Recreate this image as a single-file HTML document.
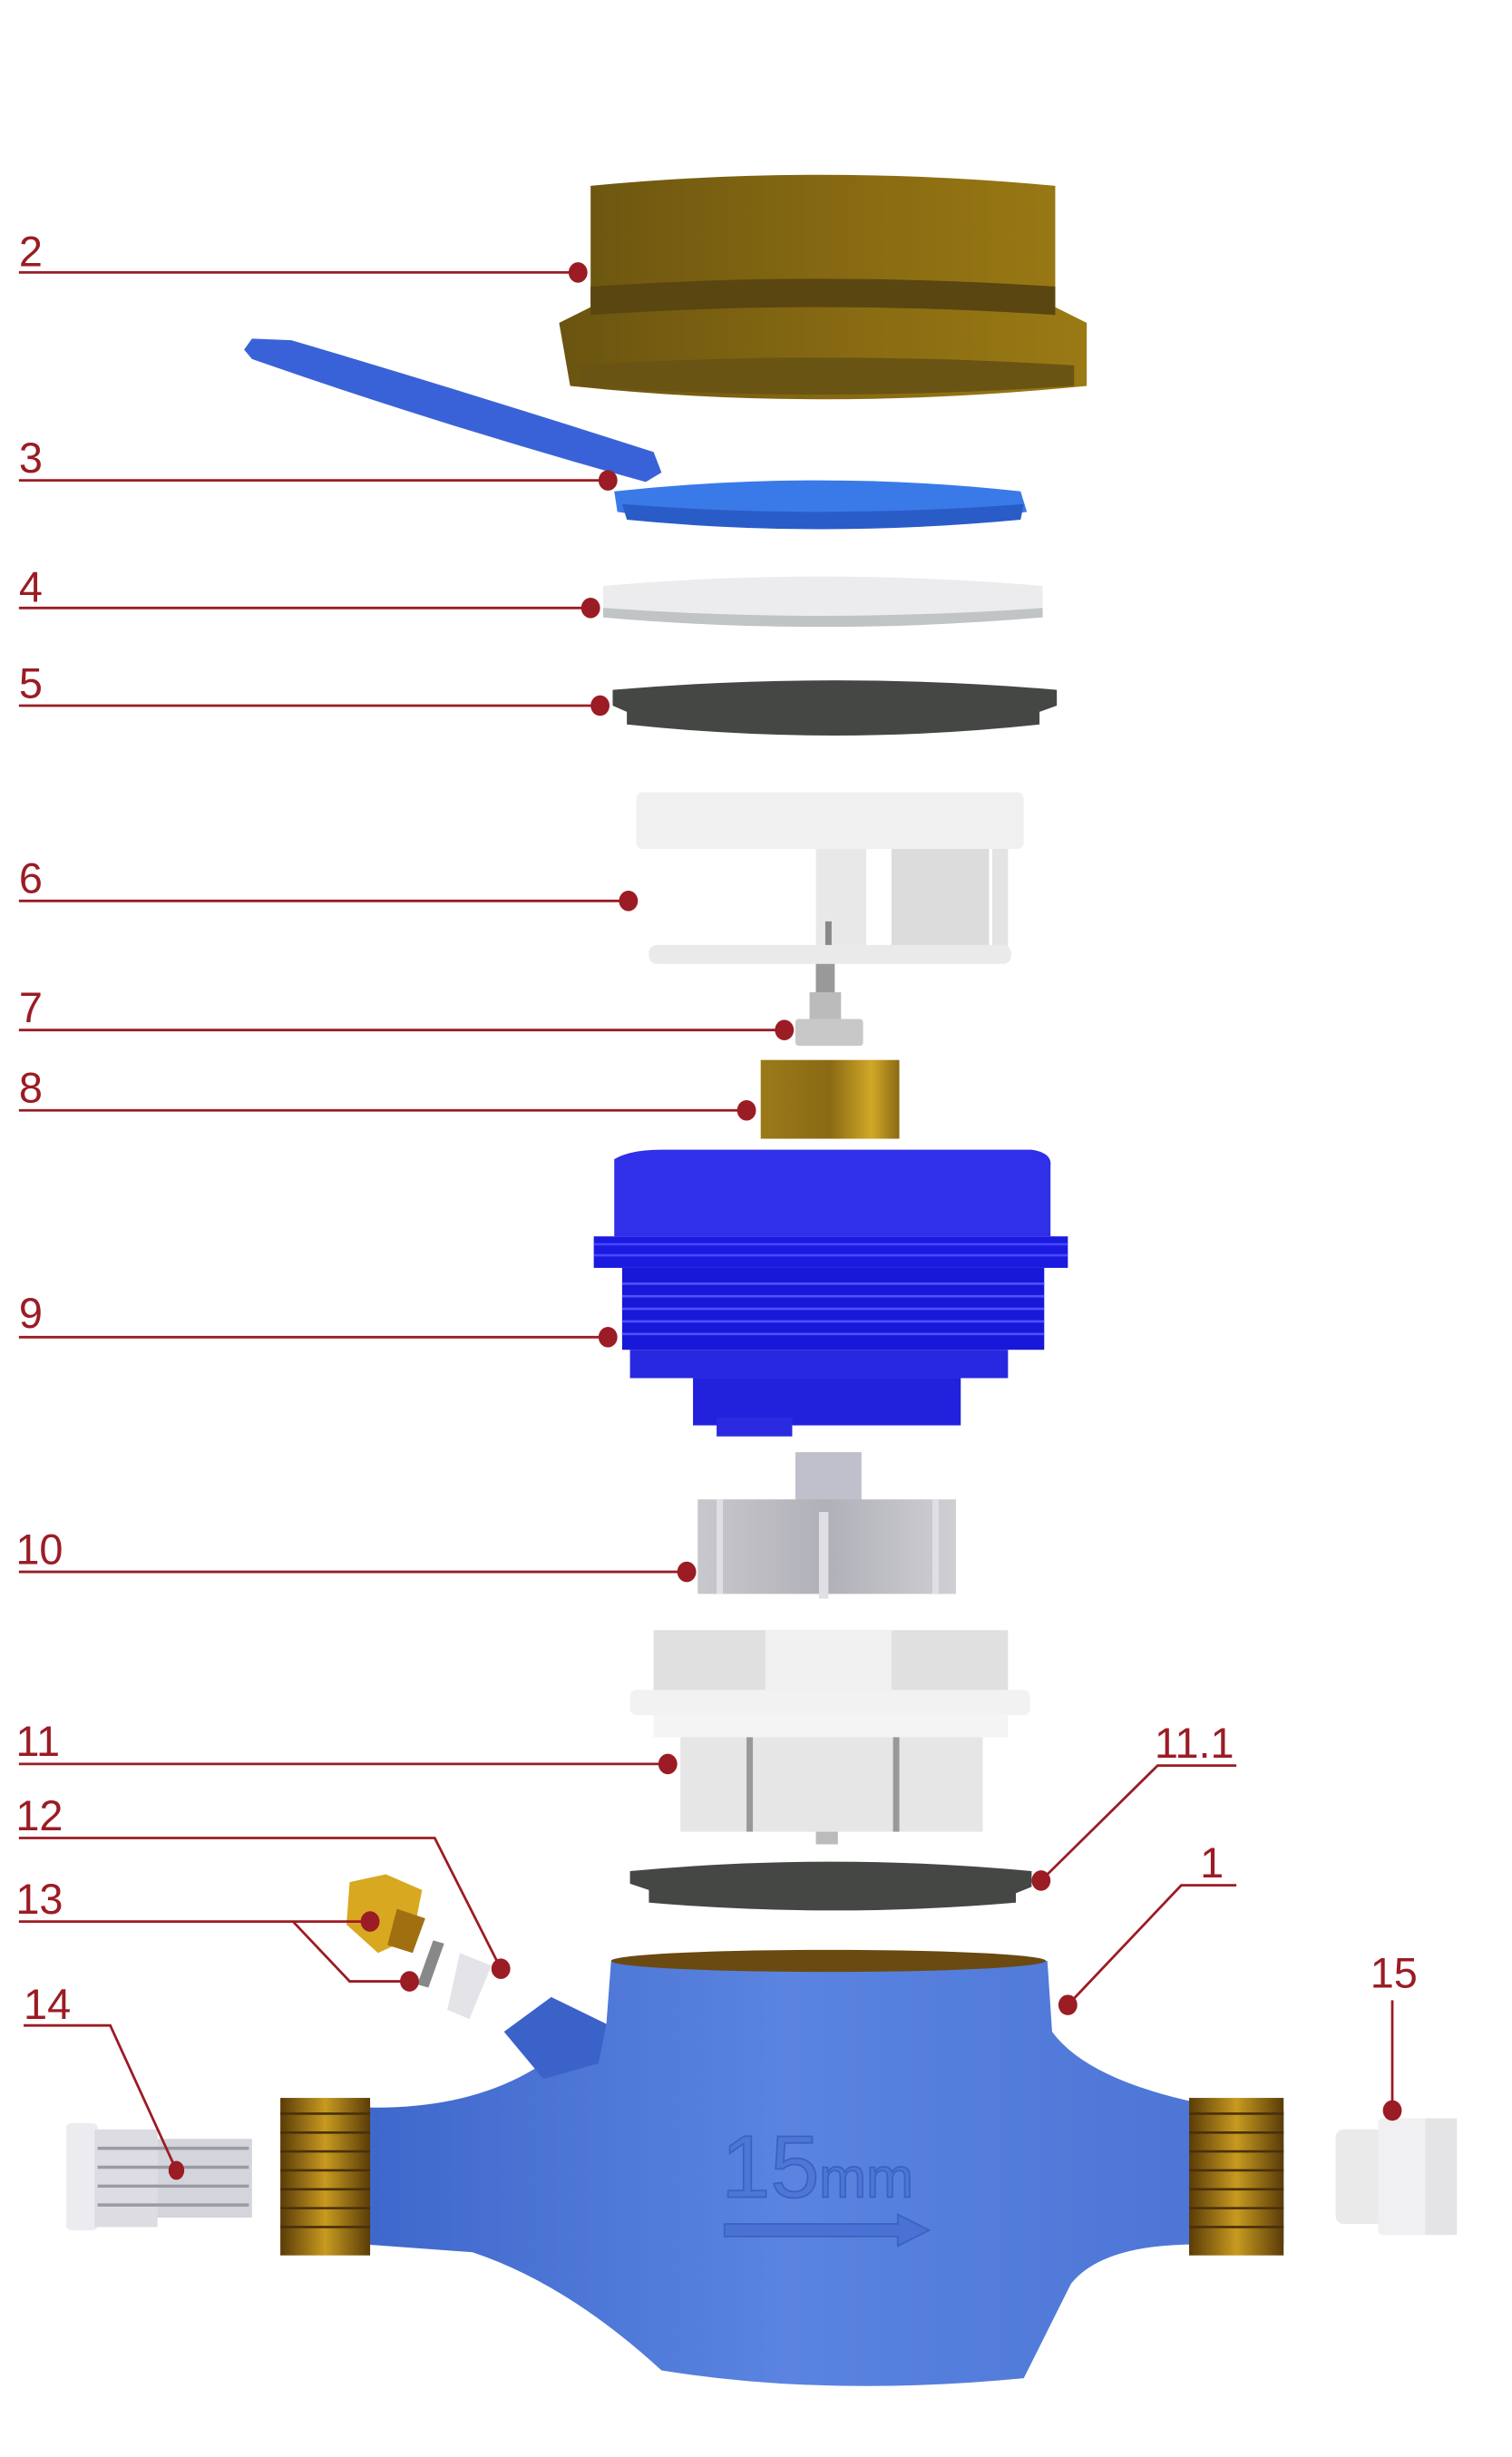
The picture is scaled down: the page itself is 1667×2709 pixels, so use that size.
<!DOCTYPE html>
<html><head><meta charset="utf-8"><style>
html,body{margin:0;padding:0;background:#fff;}
svg{display:block;}
text{font-family:"Liberation Sans",sans-serif;fill:#9b1c24;font-size:27px;}
</style></head><body>
<svg width="1667" height="2709" viewBox="0 0 960 1560" preserveAspectRatio="none" xmlns="http://www.w3.org/2000/svg">
<defs>
<linearGradient id="brass" x1="0" x2="1"><stop offset="0" stop-color="#6a5410"/><stop offset="0.6" stop-color="#8a6c12"/><stop offset="1" stop-color="#9a7a14"/></linearGradient>
<linearGradient id="brass2" x1="0" x2="1"><stop offset="0" stop-color="#9a7a18"/><stop offset="0.5" stop-color="#8a6a14"/><stop offset="0.8" stop-color="#d0a828"/><stop offset="1" stop-color="#8a6a14"/></linearGradient>
<linearGradient id="thr" x1="0" x2="1"><stop offset="0" stop-color="#5a3c08"/><stop offset="0.5" stop-color="#c89a20"/><stop offset="1" stop-color="#5a3c08"/></linearGradient>
<linearGradient id="body" x1="0" x2="1"><stop offset="0" stop-color="#3a62c8"/><stop offset="0.5" stop-color="#5a84e0"/><stop offset="1" stop-color="#4a72d4"/></linearGradient>
<linearGradient id="gray" x1="0" x2="1"><stop offset="0" stop-color="#c8c8cc"/><stop offset="0.5" stop-color="#b0b0b8"/><stop offset="1" stop-color="#cfcfd4"/></linearGradient>
</defs>
<rect width="960" height="1560" fill="#fff"/>

<!-- 2 brass ring -->
<path d="M375 118 Q520 104 670 118 L670 195 L690 205 L690 245 Q520 262 362 245 L355 205 L375 195 Z" fill="url(#brass)"/>
<path d="M375 182 Q520 172 670 182 L670 200 Q520 190 375 200 Z" fill="#5a4610"/>
<path d="M368 232 Q520 222 682 232 L682 245 Q520 256 368 245 Z" fill="#6a5414"/>

<!-- 3 lid flap & ring -->
<path d="M155 222 L160 215 L185 216 Q300 250 415 287 L420 300 L410 306 Q280 270 160 228 Z" fill="#3a62d8"/>
<path d="M390 312 Q520 298 648 312 L652 325 Q520 345 392 325 Z" fill="#3a7ae8"/>
<path d="M395 320 Q520 330 650 320 L648 330 Q520 342 398 330 Z" fill="#2a5cc8"/>

<!-- 4 white disc -->
<path d="M383 372 Q520 360 662 372 L662 392 Q520 404 383 392 Z" fill="#ececee"/>
<path d="M383 386 Q520 396 662 386 L662 392 Q520 404 383 392 Z" fill="#c0c4c4"/>

<!-- 5 gasket -->
<path d="M389 438 Q530 426 671 438 L671 448 L660 452 L660 460 Q530 474 398 460 L398 452 L389 448 Z" fill="#454745"/>

<!-- 6 register -->
<rect x="404" y="503" width="246" height="36" rx="4" fill="#f0f0f0"/>
<rect x="518" y="539" width="32" height="62" fill="#e8e8e8"/>
<rect x="566" y="539" width="62" height="62" fill="#dcdcdc"/>
<rect x="630" y="539" width="10" height="62" fill="#e4e4e4"/>
<rect x="524" y="585" width="4" height="18" fill="#888"/>
<rect x="412" y="600" width="230" height="12" rx="5" fill="#eaeaea"/>

<!-- 7 shaft -->
<rect x="518" y="612" width="12" height="20" fill="#999"/>
<rect x="514" y="630" width="20" height="18" fill="#bbb"/>
<rect x="505" y="647" width="43" height="17" rx="2" fill="#c8c8c8"/>

<!-- 8 magnet -->
<rect x="483" y="673" width="88" height="50" fill="url(#brass2)"/>

<!-- 9 blue cup -->
<path d="M390 736 Q400 730 420 730 L655 730 Q668 732 667 740 L667 785 L390 785 Z" fill="#3030e8"/>
<rect x="377" y="785" width="301" height="20" fill="#1a1ae0"/>
<g stroke="#4848ff" stroke-width="1.5"><line x1="377" y1="790" x2="678" y2="790"/><line x1="377" y1="797" x2="678" y2="797"/></g>
<rect x="395" y="805" width="268" height="52" fill="#1818d8"/>
<g stroke="#5050ff" stroke-width="1.5"><line x1="395" y1="815" x2="663" y2="815"/><line x1="395" y1="823" x2="663" y2="823"/><line x1="395" y1="831" x2="663" y2="831"/><line x1="395" y1="839" x2="663" y2="839"/><line x1="395" y1="847" x2="663" y2="847"/></g>
<rect x="400" y="857" width="240" height="18" fill="#2828e0"/>
<rect x="440" y="875" width="170" height="30" fill="#2222dc"/>
<rect x="455" y="900" width="48" height="12" fill="#2a2ae0"/>

<!-- 10 impeller -->
<rect x="505" y="922" width="42" height="38" fill="#c0c0cc"/>
<rect x="443" y="952" width="164" height="60" fill="url(#gray)"/>
<rect x="455" y="952" width="4" height="60" fill="#e0e0e4"/>
<rect x="520" y="960" width="6" height="55" fill="#e0e0e4"/>
<rect x="592" y="952" width="4" height="60" fill="#e0e0e4"/>

<!-- 11 cage -->
<rect x="415" y="1035" width="225" height="40" fill="#e0e0e0"/>
<rect x="486" y="1035" width="80" height="40" fill="#f0f0f0"/>
<rect x="400" y="1073" width="254" height="16" rx="4" fill="#f2f2f2"/>
<rect x="415" y="1089" width="225" height="14" fill="#f4f4f4"/>
<rect x="432" y="1103" width="192" height="60" fill="#e6e6e6"/>
<rect x="474" y="1103" width="4" height="60" fill="#999"/>
<rect x="567" y="1103" width="4" height="60" fill="#999"/>
<rect x="518" y="1163" width="14" height="8" fill="#bbb"/>

<!-- 11.1 gasket -->
<path d="M400 1188 Q528 1176 655 1188 L655 1198 L645 1202 L645 1208 Q528 1218 412 1208 L412 1200 L400 1196 Z" fill="#454745"/>

<!-- 1 body -->
<path d="M180 1345 L230 1338 Q300 1340 345 1310 L385 1285 L388 1245 Q525 1232 665 1245 L668 1290 Q690 1320 760 1335 L815 1340 L815 1425 L760 1425 Q700 1425 680 1450 L650 1510 Q525 1522 420 1505 Q360 1450 300 1430 L232 1425 L180 1430 Z" fill="url(#body)"/>
<ellipse cx="526" cy="1245" rx="138" ry="7" fill="#6a4a10"/>
<path d="M320 1290 L350 1268 L385 1285 L380 1310 L345 1320 Z" fill="#3a62c8"/>
<text x="458" y="1395" style="font-size:56px;fill:#4e76d6;stroke:#3a62c0;stroke-width:1">15</text>
<text x="520" y="1395" style="font-size:36px;fill:#4e76d6;stroke:#3a62c0;stroke-width:1">mm</text>
<path d="M460 1412 L570 1412 L570 1406 L590 1416 L570 1426 L570 1420 L460 1420 Z" fill="#4a72d4" stroke="#3a62c0"/>
<rect x="178" y="1332" width="57" height="100" fill="url(#thr)"/>
<g stroke="#4a3008" stroke-width="1.5">
<line x1="178" y1="1342" x2="235" y2="1342"/><line x1="178" y1="1354" x2="235" y2="1354"/><line x1="178" y1="1366" x2="235" y2="1366"/><line x1="178" y1="1378" x2="235" y2="1378"/><line x1="178" y1="1390" x2="235" y2="1390"/><line x1="178" y1="1402" x2="235" y2="1402"/><line x1="178" y1="1414" x2="235" y2="1414"/>
</g>
<rect x="755" y="1332" width="60" height="100" fill="url(#thr)"/>
<g stroke="#4a3008" stroke-width="1.5">
<line x1="755" y1="1342" x2="815" y2="1342"/><line x1="755" y1="1354" x2="815" y2="1354"/><line x1="755" y1="1366" x2="815" y2="1366"/><line x1="755" y1="1378" x2="815" y2="1378"/><line x1="755" y1="1390" x2="815" y2="1390"/><line x1="755" y1="1402" x2="815" y2="1402"/><line x1="755" y1="1414" x2="815" y2="1414"/>
</g>

<!-- 12/13 small parts -->
<path d="M222 1195 L245 1190 L268 1200 L262 1230 L240 1240 L220 1222 Z" fill="#d8a820"/>
<path d="M252 1212 L270 1218 L262 1240 L246 1235 Z" fill="#a07010"/>
<path d="M275 1232 L282 1234 L272 1262 L265 1260 Z" fill="#888"/>
<path d="M292 1240 L312 1248 L298 1282 L284 1276 Z" fill="#e4e4e8"/>

<!-- 14 filter -->
<rect x="42" y="1348" width="20" height="68" rx="3" fill="#ececf0"/>
<rect x="60" y="1352" width="40" height="62" fill="#dcdce2"/>
<rect x="100" y="1358" width="60" height="50" fill="#d4d4dc"/>
<g stroke="#9a9aa4" stroke-width="2"><line x1="62" y1="1364" x2="158" y2="1364"/><line x1="62" y1="1376" x2="158" y2="1376"/><line x1="62" y1="1388" x2="158" y2="1388"/><line x1="62" y1="1400" x2="158" y2="1400"/></g>

<!-- 15 cap -->
<rect x="848" y="1352" width="30" height="60" rx="5" fill="#eaeaea"/>
<rect x="875" y="1345" width="50" height="74" rx="3" fill="#f0f0f2"/>
<rect x="905" y="1345" width="20" height="74" fill="#e4e4e6"/>

<!-- leader lines -->
<g stroke="#9b1c24" stroke-width="1.6" fill="none">
<path d="M12 173 H367"/><path d="M12 305 H386"/><path d="M12 386 H375"/><path d="M12 448 H381"/>
<path d="M12 572 H399"/><path d="M12 654 H498"/><path d="M12 705 H474"/><path d="M12 849 H386"/>
<path d="M12 998 H436"/><path d="M12 1120 H424"/>
<path d="M12 1167 H276 L318 1250"/>
<path d="M12 1220 H235"/><path d="M186 1220 L222 1258 H260"/>
<path d="M15 1286 H70 L112 1378"/>
<path d="M785 1121 H735 L661 1194"/>
<path d="M785 1197 H750 L678 1273"/>
<path d="M884 1270 V1340"/>
</g>
<g fill="#9b1c24">
<ellipse cx="367" cy="173" rx="6" ry="6.5"/><ellipse cx="386" cy="305" rx="6" ry="6.5"/><ellipse cx="375" cy="386" rx="6" ry="6.5"/><ellipse cx="381" cy="448" rx="6" ry="6.5"/>
<ellipse cx="399" cy="572" rx="6" ry="6.5"/><ellipse cx="498" cy="654" rx="6" ry="6.5"/><ellipse cx="474" cy="705" rx="6" ry="6.5"/><ellipse cx="386" cy="849" rx="6" ry="6.5"/>
<ellipse cx="436" cy="998" rx="6" ry="6.5"/><ellipse cx="424" cy="1120" rx="6" ry="6.5"/><ellipse cx="318" cy="1250" rx="6" ry="6.5"/>
<ellipse cx="235" cy="1220" rx="6" ry="6.5"/><ellipse cx="260" cy="1258" rx="6" ry="6.5"/><ellipse cx="112" cy="1378" rx="5" ry="6"/>
<ellipse cx="661" cy="1194" rx="6" ry="6.5"/><ellipse cx="678" cy="1273" rx="6" ry="6.5"/><ellipse cx="884" cy="1340" rx="6" ry="6.5"/>
</g>
<text x="12" y="169">2</text><text x="12" y="300">3</text><text x="12" y="382">4</text><text x="12" y="443">5</text>
<text x="12" y="567">6</text><text x="12" y="649">7</text><text x="12" y="700">8</text><text x="12" y="843">9</text>
<text x="10" y="993">10</text><text x="10" y="1115">11</text><text x="10" y="1162">12</text><text x="10" y="1215">13</text>
<text x="15" y="1282">14</text><text x="733" y="1116">11.1</text><text x="762" y="1192">1</text><text x="870" y="1262">15</text>
</svg>
</body></html>
